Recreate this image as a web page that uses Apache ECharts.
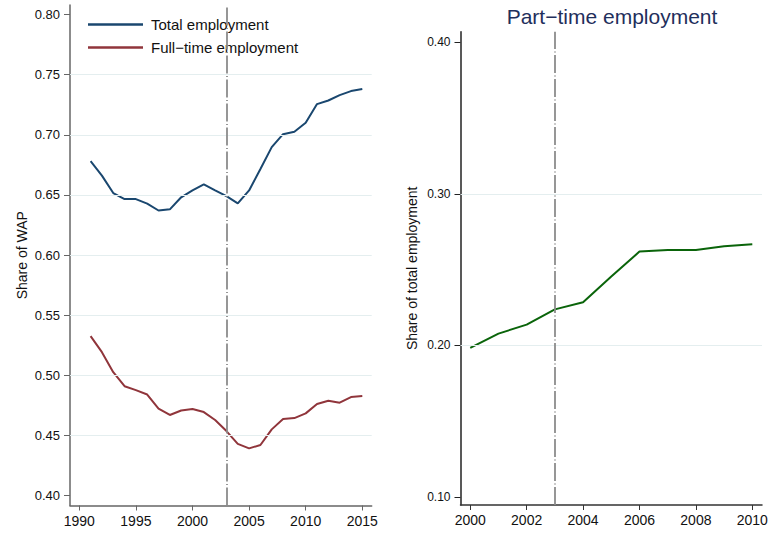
<!DOCTYPE html>
<html>
<head>
<meta charset="utf-8">
<script src="https://cdn.jsdelivr.net/npm/echarts@6/dist/echarts.min.js"></script>
<style>
  html, body { margin: 0; padding: 0; background: #fff; }
  #chart { width: 773px; height: 533px; }
</style>
</head>
<body>
<div id="chart"></div>
<script>
// left panel: share of working-age population
var yearsLeft = [1991, 1992, 1993, 1994, 1995, 1996, 1997, 1998, 1999, 2000, 2001, 2002, 2003,
                 2004, 2005, 2006, 2007, 2008, 2009, 2010, 2011, 2012, 2013, 2014, 2015];
var totalEmp = [0.678, 0.666, 0.6515, 0.6465, 0.6465, 0.6427, 0.637, 0.638, 0.648, 0.6537, 0.6587, 0.6537, 0.649,
                0.6429, 0.6537, 0.6715, 0.6897, 0.7005, 0.7025, 0.710, 0.7255, 0.7285, 0.733, 0.7363, 0.738];
var fullTimeEmp = [0.5325, 0.5192, 0.5026, 0.4909, 0.4876, 0.484, 0.4722, 0.467, 0.4707, 0.4719, 0.4694, 0.4628, 0.4536,
                   0.443, 0.4392, 0.442, 0.455, 0.4637, 0.4644, 0.4683, 0.4761, 0.4788, 0.4772, 0.4819, 0.4827];
var leftXTicks = [1990, 1995, 2000, 2005, 2010, 2015];
var leftYTicks = [0.40, 0.45, 0.50, 0.55, 0.60, 0.65, 0.70, 0.75, 0.80];
var leftGridLines = [0.45, 0.50, 0.55, 0.60, 0.65, 0.70, 0.75];

// right panel: part-time share of total employment
var yearsRight = [2000, 2001, 2002, 2003, 2004, 2005, 2006, 2007, 2008, 2009, 2010];
var partTimeEmp = [0.1984, 0.2078, 0.2137, 0.2238, 0.2285, 0.2455, 0.2619, 0.263, 0.263, 0.2655, 0.2668];
var rightXTicks = [2000, 2002, 2004, 2006, 2008, 2010];
var rightYTicks = [0.10, 0.20, 0.30, 0.40];
var rightGridLines = [0.20, 0.30];

var reformYear = 2003;

var FONT = '"Liberation Sans", Arial, sans-serif';

function pairs(xs, ys) {
    var out = [];
    for (var i = 0; i < xs.length; i++) {
        out.push([xs[i], ys[i]]);
    }
    return out;
}

function refLine() {
    return {
        silent: true,
        symbol: 'none',
        label: { show: false },
        lineStyle: { color: '#8c8c8c', width: 1.8, type: [18, 2.5, 1, 2.5] },
        data: [{ xAxis: reformYear }]
    };
}

function gridMarks(vals) {
    return {
        silent: true,
        symbol: 'none',
        label: { show: false },
        lineStyle: { color: '#e4eeef', width: 1, type: 'solid' },
        data: vals.map(function (v) { return { yAxis: v }; })
    };
}

function yearLabel(v) { return String(Math.round(v)); }
function shareLabel(v) { return v.toFixed(2); }

var option = {
    animation: false,
    backgroundColor: '#fff',
    textStyle: { fontFamily: FONT },
    title: {
        text: 'Part\u2212time employment',
        left: 612,
        top: 6,
        padding: 0,
        textAlign: 'center',
        textStyle: { fontFamily: FONT, fontSize: 21, fontWeight: 'normal', color: '#1f2f5c' }
    },
    legend: {
        data: ['Total employment', 'Full\u2212time employment'],
        orient: 'vertical',
        left: 83,
        top: 11,
        icon: 'rect',
        itemWidth: 55,
        itemHeight: 2.5,
        itemGap: 6,
        textStyle: { fontFamily: FONT, fontSize: 15, color: '#111', lineHeight: 17, padding: [0, 0, 0, 3] }
    },
    grid: [
        { left: 70, top: 5, width: 301.7, height: 500.5 },
        { left: 460.5, top: 31.7, width: 301.5, height: 473.3 }
    ],
    xAxis: [
        {
            gridIndex: 0, type: 'value', min: 1989.18, max: 2015.83,
            axisLine: { lineStyle: { color: '#666', width: 1.5 } },
            axisTick: { length: 5, customValues: leftXTicks, lineStyle: { color: '#666' } },
            axisLabel: { customValues: leftXTicks, formatter: yearLabel, fontSize: 14, color: '#111', margin: 8, fontFamily: FONT },
            splitLine: { show: false }
        },
        {
            gridIndex: 1, type: 'value', min: 1999.654, max: 2010.344,
            axisLine: { lineStyle: { color: '#333', width: 1.5 } },
            axisTick: { length: 5, customValues: rightXTicks, lineStyle: { color: '#333' } },
            axisLabel: { customValues: rightXTicks, formatter: yearLabel, fontSize: 14, color: '#111', margin: 8, fontFamily: FONT },
            splitLine: { show: false }
        }
    ],
    yAxis: [
        {
            gridIndex: 0, type: 'value', min: 0.3917, max: 0.8079,
            name: 'Share of WAP', nameLocation: 'middle', nameGap: 41,
            nameTextStyle: { fontSize: 14, color: '#111', fontFamily: FONT },
            axisLine: { show: true, lineStyle: { color: '#666', width: 1.5 } },
            axisTick: { show: true, length: 6, customValues: leftYTicks, lineStyle: { color: '#666' } },
            axisLabel: { customValues: leftYTicks, formatter: shareLabel, fontSize: 13, color: '#111', margin: 10, fontFamily: FONT },
            splitLine: { show: false }
        },
        {
            gridIndex: 1, type: 'value', min: 0.0947, max: 0.407,
            name: 'Share of total employment', nameLocation: 'middle', nameGap: 42,
            nameTextStyle: { fontSize: 14, color: '#111', fontFamily: FONT },
            axisLine: { show: true, lineStyle: { color: '#222', width: 1.5 } },
            axisTick: { show: true, length: 6, customValues: rightYTicks, lineStyle: { color: '#222' } },
            axisLabel: { customValues: rightYTicks, formatter: shareLabel, fontSize: 12, color: '#111', margin: 10, fontFamily: FONT },
            splitLine: { show: false }
        }
    ],
    series: [
        // background grid lines
        { type: 'line', xAxisIndex: 0, yAxisIndex: 0, data: [], z: 1, markLine: gridMarks(leftGridLines) },
        { type: 'line', xAxisIndex: 1, yAxisIndex: 1, data: [], z: 1, markLine: gridMarks(rightGridLines) },
        {
            name: 'Total employment', type: 'line', xAxisIndex: 0, yAxisIndex: 0,
            data: pairs(yearsLeft, totalEmp), symbol: 'none', z: 3,
            lineStyle: { color: '#1a476f', width: 2 }, itemStyle: { color: '#1a476f' }
        },
        {
            name: 'Full\u2212time employment', type: 'line', xAxisIndex: 0, yAxisIndex: 0,
            data: pairs(yearsLeft, fullTimeEmp), symbol: 'none', z: 3,
            lineStyle: { color: '#90353b', width: 2 }, itemStyle: { color: '#90353b' }
        },
        {
            name: 'Part-time', type: 'line', xAxisIndex: 1, yAxisIndex: 1,
            data: pairs(yearsRight, partTimeEmp), symbol: 'none', z: 3,
            lineStyle: { color: '#0a640a', width: 2 }, itemStyle: { color: '#0a640a' }
        },
        // reform year reference lines
        { type: 'line', xAxisIndex: 0, yAxisIndex: 0, data: [], z: 4, markLine: refLine() },
        { type: 'line', xAxisIndex: 1, yAxisIndex: 1, data: [], z: 4, markLine: refLine() }
    ]
};

var chart = echarts.init(document.getElementById('chart'), null, { renderer: 'svg' });
chart.setOption(option);
</script>
</body>
</html>
